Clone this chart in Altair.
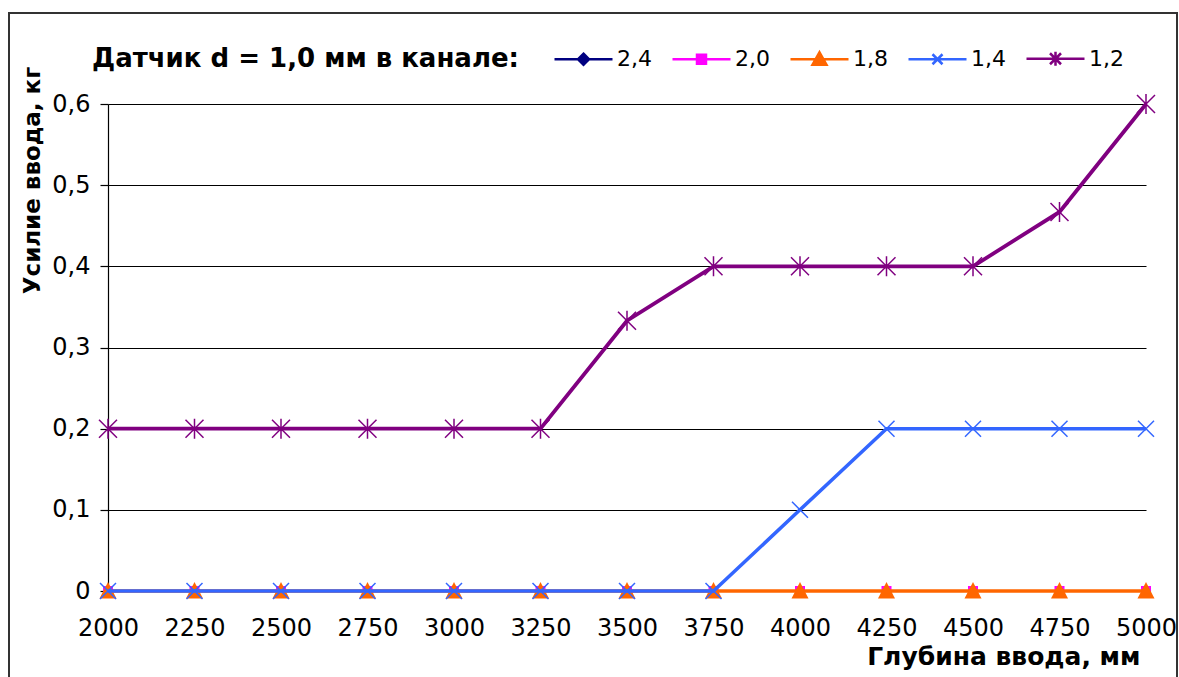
import altair as alt
import pandas as pd

# ---- data ----
depth = [2000, 2250, 2500, 2750, 3000, 3250, 3500, 3750, 4000, 4250, 4500, 4750, 5000]
series_names = ["2,4", "2,0", "1,8", "1,4", "1,2"]
s_24 = [0, 0, 0, 0, 0, 0, 0, 0, 0, 0, 0, 0, 0]
s_20 = [0, 0, 0, 0, 0, 0, 0, 0, 0, 0, 0, 0, 0]
s_18 = [0, 0, 0, 0, 0, 0, 0, 0, 0, 0, 0, 0, 0]
s_14 = [0, 0, 0, 0, 0, 0, 0, 0, 0.1, 0.2, 0.2, 0.2, 0.2]
s_12 = [0.2, 0.2, 0.2, 0.2, 0.2, 0.2, 0.333, 0.4, 0.4, 0.4, 0.4, 0.467, 0.6]
x_ticks = depth
y_ticks = [0, 0.1, 0.2, 0.3, 0.4, 0.5, 0.6]

values = [s_24, s_20, s_18, s_14, s_12]
colors = ["#000080", "#FF00FF", "#FF6600", "#3366FF", "#800080"]
widths = [1.5, 1.5, 3.5, 3.5, 3.8]

rows = []
for name, vals in zip(series_names, values):
    for x, v in zip(depth, vals):
        rows.append({"series": name, "x": x, "y": v})
df = pd.DataFrame(rows)

FONT = "DejaVu Sans"

x_enc = alt.X("x:Q", scale=alt.Scale(domain=[2000, 5000], nice=False, zero=False),
              axis=alt.Axis(values=x_ticks, format="d", grid=False, ticks=False, tickSize=0,
                            labelPadding=25, labelFontSize=24, labelFont=FONT, labelColor="#000",
                            labelOverlap=False, labelFlush=False, domainColor="#000",
                            title="Глубина ввода, мм", titleFont=FONT, titleFontSize=25,
                            titleFontWeight="bold", titleColor="#000", titleAnchor="end",
                            titleAlign="right", titleBaseline="alphabetic",
                            titleX=1032, titleY=73))
y_enc = alt.Y("y:Q", scale=alt.Scale(domain=[0, 0.6], nice=False),
              axis=alt.Axis(values=y_ticks, grid=True, gridColor="#000", gridWidth=1.2,
                            gridOpacity=1, tickColor="#000", tickSize=8, tickWidth=1.2,
                            domainColor="#000", domainWidth=1.2,
                            labelExpr="datum.value == 0 ? '0' : replace(format(datum.value, '.1f'), '.', ',')",
                            labelPadding=10, labelFontSize=24, labelFont=FONT, labelColor="#000",
                            title="Усилие ввода, кг", titleFont=FONT, titleFontSize=23,
                            titleFontWeight="bold", titleColor="#000", titleAngle=270,
                            titleAlign="center", titleBaseline="middle",
                            titleX=-76, titleY=76))

base = alt.Chart(df)

marker_shapes = [
    dict(shape="diamond", size=110, filled=True),
    dict(shape="square", size=100, filled=True),
    dict(shape="M0,-0.9L0.85,0.75L-0.85,0.75Z", size=400, filled=True),
    dict(shape="M-0.8,-0.8L0.8,0.8M-0.8,0.8L0.8,-0.8", size=400, filled=False, strokeWidth=1.5),
    dict(shape="M-0.9,-0.9L0.9,0.9M-0.9,0.9L0.9,-0.9M0,-1V1", size=400, filled=False, strokeWidth=1.5),
]

layers = []
for i, name in enumerate(series_names):
    sub = base.transform_filter(alt.datum.series == name)
    line = sub.mark_line(color=colors[i], strokeWidth=widths[i]).encode(x=x_enc, y=y_enc)
    ms = marker_shapes[i]
    pt = sub.mark_point(shape=ms["shape"], size=ms["size"], filled=ms["filled"],
                        color=colors[i], opacity=1,
                        strokeWidth=ms.get("strokeWidth", 1)).encode(x=x_enc, y=y_enc)
    layers += [line, pt]

# legend-only layer (no marks drawn; entries come from the explicit scale domains)
legend_paths = [
    "M-2.9,0H2.9M0,-0.55L0.55,0L0,0.55L-0.55,0Z",
    "M-2.9,0H2.9M-0.45,-0.45H0.45V0.45H-0.45Z",
    "M-2.9,0H2.9M0,-0.7L0.7,0.55H-0.7Z",
    "M-2.9,0H2.9M-0.5,-0.5L0.5,0.5M-0.5,0.5L0.5,-0.5",
    "M-2.9,0H2.9M-0.55,-0.55L0.55,0.55M-0.55,0.55L0.55,-0.55M0,-0.7V0.7",
]
leg = alt.Legend(orient="none", legendX=-16, legendY=-57, direction="horizontal", columns=5,
                 title="Датчик d = 1,0 мм в канале:", titleOrient="left", titleFont=FONT,
                 titleFontSize=26, titleFontWeight="bold", titleColor="#000", titlePadding=53,
                 titleLimit=800, labelLimit=200,
                 labelFont=FONT, labelFontSize=22, labelColor="#000", labelOffset=22,
                 symbolSize=400, symbolStrokeWidth=2.5, columnPadding=15, symbolOpacity=1,
                 titleBaseline="middle")
legend_layer = base.transform_filter("false").mark_point(size=400, opacity=1, strokeWidth=2.5).encode(
    fill=alt.Fill("series:N", scale=alt.Scale(domain=series_names, range=colors), legend=leg),
    stroke=alt.Stroke("series:N", scale=alt.Scale(domain=series_names, range=colors), legend=leg),
    shape=alt.Shape("series:N", scale=alt.Scale(domain=series_names, range=legend_paths), legend=leg),
)

frame = alt.Chart(alt.Data(values=[{"a": 1}])).mark_rect(fill=None, stroke="#333", strokeWidth=2).encode(
    x=alt.value(-99), x2=alt.value(1069), y=alt.value(-91), y2=alt.value(620))

chart = alt.layer(frame, *layers, legend_layer).properties(
    width=1038, height=487,
    autosize=alt.AutoSizeParams(type="none"),
    padding={"left": 108, "top": 104, "right": 33, "bottom": 86},
    background="white",
).configure_view(stroke=None)

chart.save("out.html", embed_options={"renderer": "svg", "actions": False})
